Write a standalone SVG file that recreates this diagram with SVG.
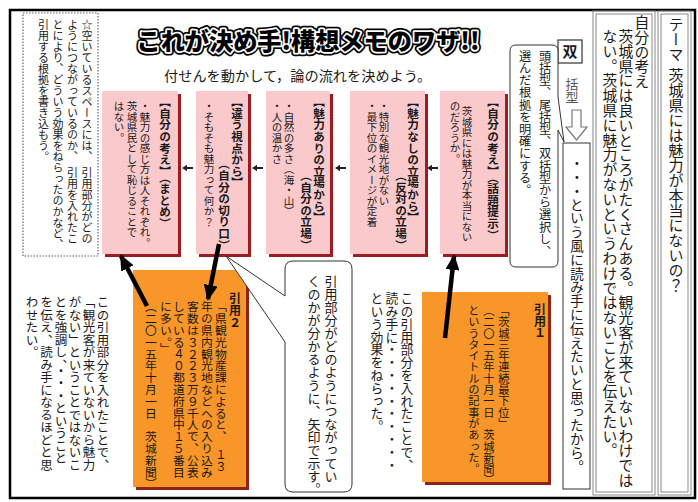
<svg xmlns="http://www.w3.org/2000/svg" width="698" height="502" viewBox="0 0 698 502">
<defs>
<style>
text { font-family: 'Noto Sans CJK JP', 'Noto Sans', sans-serif; fill: #1a1a1a; }
.v { writing-mode: vertical-rl; }
.hd { font-size: 11.6px; font-weight: bold; }
.bd { font-size: 10.5px; }
.pink { fill: #f9c9cc; }
.psh { fill: #9c1c22; }
.orange { fill: #f8962a; }
.osh { fill: #8e2418; }
.dbl { fill: none; stroke: #888; stroke-width: 1; }
.ttl { font-size: 24px; font-weight: 900; }
.arrow { stroke: #000; stroke-width: 4.5; fill: none; marker-end: url(#ah); }
.thin { fill: #fff; stroke: #333; stroke-width: 1; }
</style>
<marker id="ah" viewBox="0 0 16 14" refX="14" refY="7" markerWidth="16" markerHeight="14" markerUnits="userSpaceOnUse" orient="auto">
<path d="M0,0 L16,7 L0,14 Z" fill="#000"/>
</marker>
<g id="sa"><path d="M6,0 H-1" stroke="#222" stroke-width="2"/><path d="M-5,0 L0,-3.2 L0,3.2 Z" fill="#222"/></g>
</defs>
<rect width="698" height="502" fill="#fff"/>
<rect x="10" y="10" width="685" height="488" fill="none" stroke="#000" stroke-width="2.5"/>

<g id="title">
<text x="308" y="50" text-anchor="middle" class="ttl" textLength="343" lengthAdjust="spacingAndGlyphs" stroke="#000" stroke-width="7" stroke-linejoin="round" fill="#000">これが決め手!構想メモのワザ!!</text>
<text x="308" y="50" text-anchor="middle" class="ttl" textLength="343" lengthAdjust="spacingAndGlyphs" stroke="#fff" stroke-width="3.5" stroke-linejoin="round" fill="#000">これが決め手!構想メモのワザ!!</text>
<text x="308" y="50" text-anchor="middle" class="ttl" textLength="343" lengthAdjust="spacingAndGlyphs" style="fill:#000">これが決め手!構想メモのワザ!!</text>
</g>
<g id="subtitle">
<text x="164" y="81" style="font-size:14.2px">付せんを動かして，論の流れを決めよう。</text>
</g>

<g id="theme">
<rect x="658" y="11" width="33" height="484" class="dbl"/>
<rect x="661" y="14" width="27" height="478" class="dbl"/>
<text class="v" x="676" y="17" style="font-size:15px">テーマ</text>
<text class="v" x="676" y="68" style="font-size:15px">茨城県には魅力が本当にないの？</text>
</g>

<g id="opinion">
<rect x="593" y="11" width="62" height="484" class="dbl"/>
<rect x="596" y="14" width="56" height="478" class="dbl"/>
<text class="v" x="642" y="15" style="font-size:14.8px">自分の考え</text>
<text class="v" x="626" y="29" style="font-size:14.8px">茨城県には良いところがたくさんある。観光客が来ていないわけでは</text>
<text class="v" x="610" y="29" style="font-size:14.8px">ない。茨城県に魅力がないというわけではないことを伝えたい。</text>
</g>

<g id="type-slot">
<rect x="558" y="40" width="24" height="23" fill="#fff" stroke="#333" stroke-width="1.2"/>
<text x="570" y="57" text-anchor="middle" style="font-size:15px;font-weight:bold">双</text>
<text class="v" x="572" y="78" style="font-size:13px;fill:#555">括型</text>
<path d="M572,110 H581 V127 H587 L576.5,140 L566,127 H572 Z" fill="#fff" stroke="#777" stroke-width="1.2"/>
</g>

<g id="reason">
<rect x="563" y="143" width="27" height="346" fill="#fff" stroke="#333" stroke-width="1"/>
<text class="v" x="577" y="156" style="font-size:13.8px">・・・という風に読み手に伝えたいと思ったから。</text>
</g>

<g id="callout">
<path d="M516,45 H552 Q558,45 558,51 V97 L564,142 L558,130 V261 Q558,267 552,267 H516 Q510,267 510,261 V51 Q510,45 516,45 Z" class="thin"/>
<text class="v" x="545" y="50" style="font-size:12.2px">頭括型、尾括型、双括型から選択し、</text>
<text class="v" x="525" y="50" style="font-size:12.2px">選んだ根拠を明確にする。</text>
</g>

<g id="note">
<rect x="23" y="13" width="75" height="243" fill="none" stroke="#666" stroke-width="1.2" stroke-dasharray="1.5 1.5"/>
<text class="v" x="87" y="19" style="font-size:11px">☆空いているスペースには、　引用部分がどの</text>
<text class="v" x="72.5" y="19" style="font-size:11px">ようにつながっているのか、　引用を入れたこ</text>
<text class="v" x="58" y="19" style="font-size:11px">とにより、どういう効果をねらったのかなど、</text>
<text class="v" x="43.5" y="19" style="font-size:11px">引用する根拠を書き込もう。</text>
</g>

<g id="card5">
<rect x="105" y="94" width="76" height="163" class="psh"/>
<rect x="102" y="91" width="76" height="163" class="pink"/>
<text class="v hd" x="165" y="96">【自分の考え】（まとめ）</text>
<text class="v bd" x="145" y="101">・魅力の感じ方は人それぞれ。</text>
<text class="v bd" x="132" y="101">茨城県民として恥じることで</text>
<text class="v bd" x="119" y="101">はない。</text>
</g>

<g id="card4">
<rect x="199" y="94" width="52" height="163" class="psh"/>
<rect x="196" y="91" width="52" height="163" class="pink"/>
<text class="v hd" x="237" y="96">【違う視点から】</text>
<text class="v hd" x="224" y="251" text-anchor="end">（自分の切り口）</text>
<text class="v bd" x="209" y="101">・そもそも魅力って何か？</text>
</g>

<g id="card3">
<rect x="269" y="94" width="64" height="163" class="psh"/>
<rect x="266" y="91" width="64" height="163" class="pink"/>
<text class="v hd" x="319" y="96">【魅力ありの立場から】</text>
<text class="v hd" x="306" y="251" text-anchor="end">（自分の立場）</text>
<text class="v bd" x="289" y="101">・自然の多さ（海・山）</text>
<text class="v bd" x="277" y="101">・人の温かさ</text>
</g>

<g id="card2">
<rect x="353" y="94" width="75" height="163" class="psh"/>
<rect x="350" y="91" width="75" height="163" class="pink"/>
<text class="v hd" x="413" y="96">【魅力なしの立場から】</text>
<text class="v hd" x="401" y="251" text-anchor="end">（反対の立場）</text>
<text class="v bd" x="384" y="101">・特別な観光地がない</text>
<text class="v bd" x="372" y="101">・最下位のイメージが定着</text>
</g>

<g id="card1">
<rect x="443" y="94" width="65" height="163" class="psh"/>
<rect x="440" y="91" width="65" height="163" class="pink"/>
<text class="v hd" x="493" y="96">【自分の考え】（話題提示）</text>
<text class="v bd" x="467" y="106">茨城県には魅力が本当にない</text>
<text class="v bd" x="455" y="101">のだろうか。</text>
</g>

<g id="quote2">
<rect x="136" y="273" width="113" height="217" class="osh"/>
<rect x="133" y="270" width="113" height="217" class="orange"/>
<text class="v" x="235" y="292" style="font-size:12px;font-weight:bold">引用２</text>
<text class="v" x="221" y="301" style="font-size:11.8px">「県観光物産課によると、　１３</text>
<text class="v" x="207" y="301" style="font-size:11.8px">年の県内観光地などへの入り込み</text>
<text class="v" x="193" y="301" style="font-size:11.8px">客数は３２２３万９千人で、公表</text>
<text class="v" x="179" y="301" style="font-size:11.8px">している４０都道府県中１５番目</text>
<text class="v" x="166" y="301" style="font-size:11.8px">に多い。」</text>
<text class="v" x="151" y="301" style="font-size:11.8px">（二〇一五年十月一日　茨城新聞）</text>
</g>

<g id="quote1">
<rect x="425" y="295" width="126" height="190" class="osh"/>
<rect x="422" y="292" width="126" height="190" class="orange"/>
<text class="v" x="540" y="303" style="font-size:12px;font-weight:bold">引用１</text>
<text class="v" x="504" y="305" style="font-size:11.3px">「茨城三年連続最下位」</text>
<text class="v" x="489" y="305" style="font-size:11.3px">（二〇一五年十月一日　茨城新聞）</text>
<text class="v" x="474" y="305" style="font-size:11.3px">というタイトルの記事があった。</text>
</g>

<g id="bubble">
<path d="M293,261 H344 Q352,261 352,269 V484 Q352,492 344,492 H293 Q285,492 285,484 V342 L226,256 L285,296 V269 Q285,261 293,261 Z" class="thin"/>
<text class="v" x="331" y="275" style="font-size:13px">引用部分がどのようにつながってい</text>
<text class="v" x="314" y="275" style="font-size:13px">くのかが分かるように、矢印で示す。</text>
</g>

<g id="memo-mid">
<text class="v" x="407" y="292" style="font-size:12.8px">この引用部分を入れたことで、</text>
<text class="v" x="392" y="292" style="font-size:12.8px">読み手に・・・・・・・・・・</text>
<text class="v" x="377" y="292" style="font-size:12.8px">という効果をねらった。</text>
</g>

<g id="memo-left">
<text class="v" x="103" y="296" style="font-size:12.5px">この引用部分を入れたことで、</text>
<text class="v" x="89" y="296" style="font-size:12.5px">「観光客が来ていないから魅力</text>
<text class="v" x="75" y="296" style="font-size:12.5px">がない」ということではないこ</text>
<text class="v" x="61" y="296" style="font-size:12.5px">とを強調し、・・・ということ</text>
<text class="v" x="46.5" y="296" style="font-size:12.5px">を伝え、読み手になるほどと思</text>
<text class="v" x="32" y="296" style="font-size:12.5px">わせたい。</text>
</g>

<g id="connectors">
<use href="#sa" x="187" y="168"/>
<use href="#sa" x="257" y="168"/>
<use href="#sa" x="340" y="168"/>
<use href="#sa" x="432" y="168"/>
<line x1="445" y1="338" x2="454" y2="256" class="arrow"/>
<line x1="219" y1="244" x2="208" y2="299" class="arrow"/>
<line x1="147" y1="306" x2="121" y2="256" class="arrow"/>
</g>
</svg>
